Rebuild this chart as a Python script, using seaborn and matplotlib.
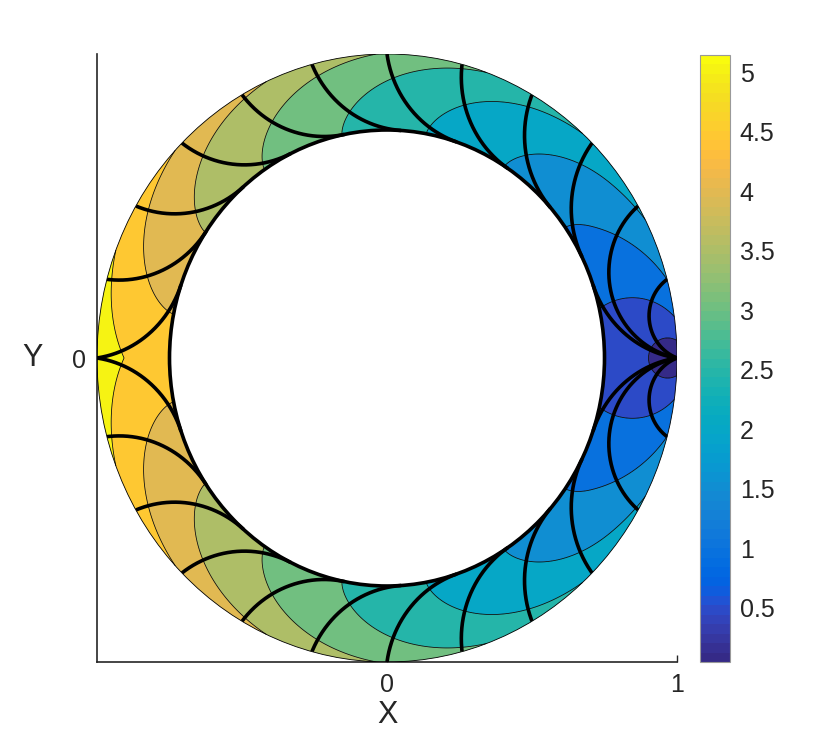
import numpy as np
import matplotlib
matplotlib.use("Agg")
import matplotlib.pyplot as plt
from matplotlib.colors import ListedColormap, Normalize
from matplotlib.patches import Circle
import matplotlib.cm as cm
import seaborn as sns

# ---------------- values ----------------
INNER_RADIUS = 0.75
OUTER_RADIUS = 1.0
DISK_RADIUS = 1.05            # radius of the Poincare-disk model behind the field / rays
SOURCE_XY = (1.0, 0.0)        # point where all rays start
VALUE_SCALE = 0.44            # colour value per unit of geodesic distance
CONTOUR_LEVELS = [0.5, 1.0, 1.5, 2.0, 2.5, 3.0, 3.5, 4.0, 4.5, 5.0]
COLOR_LIMITS = [0.046, 5.143]
RAY_RIM_ANGLES_DEG = [15, 30, 45, 60, 75, 90, 105, 120, 135, 150, 165, 180]
X_TICKS = [0, 1]
X_TICK_LABELS = ["0", "1"]
Y_TICKS = [0]
Y_TICK_LABELS = ["0"]
CBAR_TICKS = [0.5, 1, 1.5, 2, 2.5, 3, 3.5, 4, 4.5, 5]
CBAR_TICK_LABELS = ["0.5", "1", "1.5", "2", "2.5", "3", "3.5", "4", "4.5", "5"]
X_LABEL = "X"
Y_LABEL = "Y"

# MATLAB parula (64 entries) - style
PARULA = [
    [0.2081, 0.1663, 0.5292], [0.2116, 0.1898, 0.5777], [0.2123, 0.2138, 0.6270], [0.2081, 0.2386, 0.6771],
    [0.1959, 0.2645, 0.7279], [0.1707, 0.2919, 0.7792], [0.1253, 0.3242, 0.8303], [0.0591, 0.3598, 0.8683],
    [0.0117, 0.3875, 0.8820], [0.0060, 0.4086, 0.8828], [0.0165, 0.4266, 0.8786], [0.0329, 0.4430, 0.8720],
    [0.0498, 0.4586, 0.8641], [0.0629, 0.4737, 0.8554], [0.0723, 0.4887, 0.8467], [0.0779, 0.5040, 0.8384],
    [0.0793, 0.5200, 0.8312], [0.0749, 0.5375, 0.8263], [0.0641, 0.5570, 0.8240], [0.0488, 0.5772, 0.8228],
    [0.0343, 0.5966, 0.8199], [0.0265, 0.6137, 0.8135], [0.0239, 0.6287, 0.8038], [0.0231, 0.6418, 0.7913],
    [0.0228, 0.6535, 0.7768], [0.0267, 0.6642, 0.7607], [0.0384, 0.6743, 0.7436], [0.0590, 0.6838, 0.7254],
    [0.0843, 0.6928, 0.7062], [0.1133, 0.7015, 0.6859], [0.1453, 0.7098, 0.6646], [0.1801, 0.7177, 0.6424],
    [0.2178, 0.7250, 0.6193], [0.2586, 0.7317, 0.5954], [0.3022, 0.7376, 0.5712], [0.3482, 0.7424, 0.5473],
    [0.3953, 0.7459, 0.5244], [0.4420, 0.7481, 0.5033], [0.4871, 0.7491, 0.4840], [0.5300, 0.7491, 0.4661],
    [0.5709, 0.7485, 0.4494], [0.6099, 0.7473, 0.4337], [0.6473, 0.7456, 0.4188], [0.6834, 0.7435, 0.4044],
    [0.7184, 0.7411, 0.3905], [0.7525, 0.7384, 0.3768], [0.7858, 0.7356, 0.3633], [0.8185, 0.7327, 0.3498],
    [0.8507, 0.7299, 0.3360], [0.8824, 0.7274, 0.3217], [0.9139, 0.7258, 0.3063], [0.9450, 0.7261, 0.2886],
    [0.9739, 0.7314, 0.2666], [0.9938, 0.7455, 0.2403], [0.9990, 0.7653, 0.2164], [0.9955, 0.7861, 0.1967],
    [0.9880, 0.8066, 0.1794], [0.9789, 0.8271, 0.1633], [0.9697, 0.8481, 0.1475], [0.9626, 0.8705, 0.1309],
    [0.9589, 0.8949, 0.1132], [0.9598, 0.9218, 0.0948], [0.9661, 0.9514, 0.0755], [0.9763, 0.9831, 0.0538],
]

sns.set_theme(style="white")
plt.rcParams["font.family"] = ["Liberation Sans", "DejaVu Sans"]
TEXT_COLOR = "0.15"

# ---------------- geometry of the field ----------------
R = DISK_RADIUS
src = complex(*SOURCE_XY)
ws = src / R
rho = 2 * np.arctanh(INNER_RADIUS / R)
tanh_rho, sinh_rho, cosh_rho = np.tanh(rho), np.sinh(rho), np.cosh(rho)


def tangent_data(absw):
    d = 2 * np.arctanh(absw)
    with np.errstate(divide="ignore", invalid="ignore"):
        alpha = np.arccos(np.clip(tanh_rho / np.tanh(d), -1, 1))
    t = np.arccosh(np.maximum(np.cosh(d) / cosh_rho, 1.0))
    return alpha, t


alpha_s, t_s = tangent_data(abs(ws))

r = np.linspace(INNER_RADIUS, OUTER_RADIUS, 240)
th = np.linspace(-np.pi, np.pi, 1801)
RR, TT = np.meshgrid(r, th)
Zc = RR * np.exp(1j * TT)
W = Zc / R
alpha_z, t_z = tangent_data(np.abs(W))
ang = np.abs(TT)
direct = 2 * np.arctanh(np.clip(np.abs(W - ws) / np.abs(1 - np.conj(ws) * W), 0, 0.999999999))
around = t_s + t_z + sinh_rho * (ang - alpha_s - alpha_z)
D = np.where(ang <= alpha_s + alpha_z, direct, around)
V = VALUE_SCALE * D
X, Y = Zc.real, Zc.imag

# ---------------- rays ----------------
def geodesic_arc(p, q, n=400):
    ps = R ** 2 / np.conj(p)
    ax_, ay = p.real, p.imag
    bx, by = q.real, q.imag
    cx, cy = ps.real, ps.imag
    d = 2 * (ax_ * (by - cy) + bx * (cy - ay) + cx * (ay - by))
    ux = ((ax_**2 + ay**2) * (by - cy) + (bx**2 + by**2) * (cy - ay) + (cx**2 + cy**2) * (ay - by)) / d
    uy = ((ax_**2 + ay**2) * (cx - bx) + (bx**2 + by**2) * (ax_ - cx) + (cx**2 + cy**2) * (bx - ax_)) / d
    C = complex(ux, uy)
    rad = abs(p - C)
    a0 = np.angle(p - C)
    a1 = np.angle(q - C)
    dccw = (a1 - a0) % (2 * np.pi)
    s = (np.angle(ps - C) - a0) % (2 * np.pi)
    delta = dccw - 2 * np.pi if 0 < s < dccw else dccw
    phi = a0 + np.linspace(0, delta, n)
    return C + rad * np.exp(1j * phi)


a_ray = (R ** 2 - INNER_RADIUS ** 2) / (2 * INNER_RADIUS)
c_ray = a_ray + INNER_RADIUS
delta_rim = np.arccos((OUTER_RADIUS ** 2 + c_ray ** 2 - a_ray ** 2) / (2 * c_ray * OUTER_RADIUS))
alpha_rim, _ = tangent_data(OUTER_RADIUS / R)


def creeping_arc(theta, n=400):
    beta = theta - delta_rim
    C = c_ray * np.exp(1j * beta)
    phi0 = beta + np.pi
    rim = OUTER_RADIUS * np.exp(1j * theta)
    phi1 = np.angle(rim - C)
    dphi = ((phi1 - phi0 + np.pi) % (2 * np.pi)) - np.pi
    phi = phi0 + np.linspace(0, dphi, n)
    return C + a_ray * np.exp(1j * phi)


rays = []
for deg in RAY_RIM_ANGLES_DEG:
    theta = np.deg2rad(deg)
    if theta <= alpha_s + alpha_rim:
        rays.append(geodesic_arc(src, OUTER_RADIUS * np.exp(1j * theta)))
    else:
        rays.append(creeping_arc(theta))
rays.append(geodesic_arc(src, INNER_RADIUS * np.exp(1j * alpha_s)))

# ---------------- figure ----------------
fig = plt.figure(figsize=(8.3, 7.43), dpi=100)
ax = fig.add_axes([97 / 830, 81 / 743, 580 / 830, 608 / 743])
cmap = ListedColormap(PARULA)
norm = Normalize(*COLOR_LIMITS)

bounds = [-1.0] + CONTOUR_LEVELS + [100.0]
band_colors = [cmap(norm(max(b, COLOR_LIMITS[0]))) for b in bounds[:-1]]
ax.contourf(X, Y, V, levels=bounds, colors=band_colors, antialiased=True, zorder=1)
ax.contour(X, Y, V, levels=CONTOUR_LEVELS, colors="black", linewidths=0.55, zorder=2)

clip = Circle((0, 0), OUTER_RADIUS, transform=ax.transData, facecolor="none", edgecolor="none")
ax.add_patch(clip)
for ray in rays:
    for pts in (ray, np.conj(ray)):
        ln, = ax.plot(pts.real, pts.imag, color="black", lw=2.6, solid_capstyle="butt", zorder=3)
        ln.set_clip_path(clip)

ax.add_patch(Circle((0, 0), INNER_RADIUS, facecolor="none", edgecolor="black", lw=2.6, zorder=4))
ax.add_patch(Circle((0, 0), OUTER_RADIUS, facecolor="none", edgecolor="black", lw=0.6, zorder=4))

ax.set_xlim(-1, 1)
ax.set_ylim(-1, 1)
sns.despine(ax=ax)
ax.set_axisbelow(True)
for sp in ("left", "bottom"):
    ax.spines[sp].set_color(TEXT_COLOR)
    ax.spines[sp].set_linewidth(1.2)
ax.set_xticks(X_TICKS)
ax.set_xticklabels(X_TICK_LABELS)
ax.set_yticks(Y_TICKS)
ax.set_yticklabels(Y_TICK_LABELS)
ax.tick_params(direction="in", length=5, width=1.0, colors=TEXT_COLOR, labelsize=18, pad=8,
               bottom=True, left=True)
ax.set_xlabel(X_LABEL, fontsize=22, color=TEXT_COLOR)
ax.xaxis.set_label_coords(0.5, -0.087)
ax.xaxis.label.set_va("center")
ax.set_ylabel(Y_LABEL, fontsize=22, color=TEXT_COLOR, rotation=0)
ax.yaxis.set_label_coords(-0.112, 0.5)
ax.yaxis.label.set_va("center")
ax.yaxis.label.set_ha("center")

cax = fig.add_axes([700 / 830, 81 / 743, 30 / 830, 607 / 743])
sm = cm.ScalarMappable(norm=norm, cmap=cmap)
cb = fig.colorbar(sm, cax=cax, ticks=CBAR_TICKS)
cb.ax.set_yticklabels(CBAR_TICK_LABELS)
cb.ax.tick_params(direction="in", length=5, width=1.0, colors=TEXT_COLOR, labelsize=18, pad=7)
cb.outline.set_edgecolor("0.6")
cb.outline.set_linewidth(0.8)

fig.savefig("out.png", dpi=100)
